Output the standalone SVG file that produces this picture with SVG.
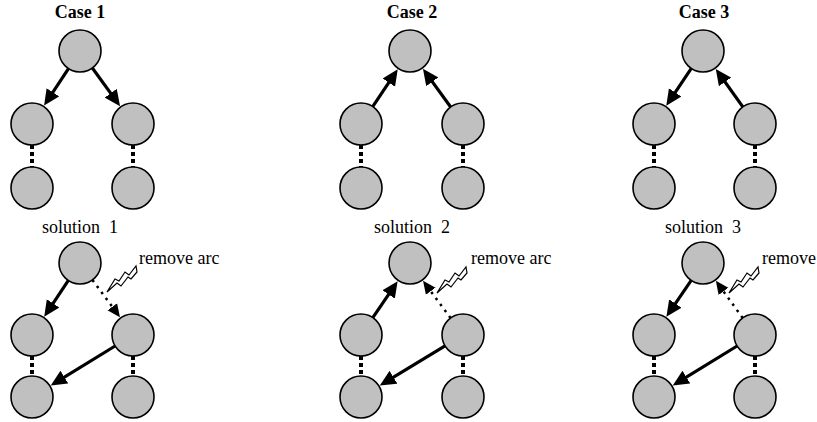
<svg xmlns="http://www.w3.org/2000/svg" width="817" height="422" viewBox="0 0 817 422">
<style>
.n{fill:#c0c0c0;stroke:#000;stroke-width:1.6}
.t{font-family:'Liberation Serif','DejaVu Serif',serif;font-size:18px;fill:#000}
.h{font-weight:bold;text-anchor:middle}
.s{text-anchor:middle;white-space:pre}
.a{stroke:#000;stroke-width:3.2;fill:none;marker-end:url(#ah)}
.d{stroke:#000;stroke-width:2.5;fill:none;stroke-dasharray:2.5 5;marker-end:url(#ad)}
.v{stroke:#000;stroke-width:4;fill:none;stroke-dasharray:4 3}
.b{fill:#fff;stroke:#000;stroke-width:1.2;stroke-linejoin:miter}
</style>
<defs>
<marker id="ah" markerUnits="userSpaceOnUse" viewBox="0 -8 17 16" refX="11" refY="0" markerWidth="17" markerHeight="16" orient="auto"><path d="M0,-7.5 L16,0 L0,7.5 Z" fill="#000"/></marker>
<marker id="ad" markerUnits="userSpaceOnUse" viewBox="0 -7 14 14" refX="9" refY="0" markerWidth="14" markerHeight="14" orient="auto"><path d="M0,-6 L13,0 L0,6 Z" fill="#000"/></marker>
<polygon id="bolt" class="b" points="0,26 8,13 12,15 18,6 22,9 29,0 30,6 24,13 21,11 14,20 10,17"/>
</defs>

<g id="labels" font-family="'Liberation Serif','DejaVu Serif',serif">
<text class="t h" x="80" y="18">Case 1</text>
<text class="t h" x="412" y="18">Case 2</text>
<text class="t h" x="704" y="18">Case 3</text>
<text class="t s" x="80" y="233" xml:space="preserve">solution  1</text>
<text class="t s" x="412" y="233" xml:space="preserve">solution  2</text>
<text class="t s" x="703" y="233" xml:space="preserve">solution  3</text>
<text class="t" x="139" y="264">remove arc</text>
<text class="t" x="471" y="264">remove arc</text>
<text class="t" x="762" y="264">remove</text>
</g>

<g id="connectors">
<!-- Case 1 -->
<line class="a" x1="68.46" y1="68.55" x2="46.84" y2="101.44"/>
<line class="a" x1="92.34" y1="67.99" x2="117.13" y2="102.15"/>
<line class="v" x1="32" y1="145" x2="32" y2="167"/>
<line class="v" x1="133" y1="145" x2="133" y2="167"/>
<!-- Case 2 -->
<line class="a" x1="372.70" y1="106.56" x2="394.95" y2="73.42"/>
<line class="a" x1="450.66" y1="107.01" x2="425.87" y2="72.85"/>
<line class="v" x1="361" y1="145" x2="361" y2="167"/>
<line class="v" x1="463" y1="145" x2="463" y2="167"/>
<!-- Case 3 -->
<line class="a" x1="691.30" y1="68.44" x2="669.05" y2="101.58"/>
<line class="a" x1="742.82" y1="106.90" x2="718.66" y2="72.99"/>
<line class="v" x1="654" y1="145" x2="654" y2="167"/>
<line class="v" x1="755" y1="145" x2="755" y2="167"/>
<!-- Solution 1 -->
<line class="a" x1="68.35" y1="280.47" x2="46.97" y2="312.53"/>
<line class="d" x1="92.45" y1="279.91" x2="117.59" y2="314.06"/>
<line class="a" x1="115.10" y1="345.99" x2="55.01" y2="382.87"/>
<line class="v" x1="32" y1="356" x2="32" y2="376"/>
<line class="v" x1="133" y1="356" x2="133" y2="376"/>
<!-- Solution 2 -->
<line class="a" x1="372.81" y1="317.64" x2="394.81" y2="285.32"/>
<line class="d" x1="450.55" y1="318.09" x2="425.41" y2="283.94"/>
<line class="a" x1="445.06" y1="345.91" x2="384.07" y2="382.97"/>
<line class="v" x1="361" y1="356" x2="361" y2="376"/>
<line class="v" x1="463" y1="356" x2="463" y2="376"/>
<!-- Solution 3 -->
<line class="a" x1="691.19" y1="280.36" x2="669.19" y2="312.68"/>
<line class="d" x1="742.70" y1="317.98" x2="718.22" y2="284.08"/>
<line class="a" x1="737.10" y1="345.99" x2="677.01" y2="382.87"/>
<line class="v" x1="654" y1="356" x2="654" y2="376"/>
<line class="v" x1="755" y1="356" x2="755" y2="376"/>
</g>

<g id="bolts">
<use href="#bolt" x="107" y="266"/>
<use href="#bolt" x="437" y="267"/>
<use href="#bolt" x="729" y="267"/>
</g>

<g id="c1-top"><circle class="n" cx="80" cy="51" r="21"/></g>
<g id="c1-l"><circle class="n" cx="32" cy="124" r="21"/></g>
<g id="c1-r"><circle class="n" cx="133" cy="124" r="21"/></g>
<g id="c1-bl"><circle class="n" cx="32" cy="188" r="21"/></g>
<g id="c1-br"><circle class="n" cx="133" cy="188" r="21"/></g>

<g id="c2-top"><circle class="n" cx="410" cy="51" r="21"/></g>
<g id="c2-l"><circle class="n" cx="361" cy="124" r="21"/></g>
<g id="c2-r"><circle class="n" cx="463" cy="124" r="21"/></g>
<g id="c2-bl"><circle class="n" cx="361" cy="188" r="21"/></g>
<g id="c2-br"><circle class="n" cx="463" cy="188" r="21"/></g>

<g id="c3-top"><circle class="n" cx="703" cy="51" r="21"/></g>
<g id="c3-l"><circle class="n" cx="654" cy="124" r="21"/></g>
<g id="c3-r"><circle class="n" cx="755" cy="124" r="21"/></g>
<g id="c3-bl"><circle class="n" cx="654" cy="188" r="21"/></g>
<g id="c3-br"><circle class="n" cx="755" cy="188" r="21"/></g>

<g id="s1-top"><circle class="n" cx="80" cy="263" r="21"/></g>
<g id="s1-l"><circle class="n" cx="32" cy="335" r="21"/></g>
<g id="s1-r"><circle class="n" cx="133" cy="335" r="21"/></g>
<g id="s1-bl"><circle class="n" cx="32" cy="397" r="21"/></g>
<g id="s1-br"><circle class="n" cx="133" cy="397" r="21"/></g>

<g id="s2-top"><circle class="n" cx="410" cy="263" r="21"/></g>
<g id="s2-l"><circle class="n" cx="361" cy="335" r="21"/></g>
<g id="s2-r"><circle class="n" cx="463" cy="335" r="21"/></g>
<g id="s2-bl"><circle class="n" cx="361" cy="397" r="21"/></g>
<g id="s2-br"><circle class="n" cx="463" cy="397" r="21"/></g>

<g id="s3-top"><circle class="n" cx="703" cy="263" r="21"/></g>
<g id="s3-l"><circle class="n" cx="654" cy="335" r="21"/></g>
<g id="s3-r"><circle class="n" cx="755" cy="335" r="21"/></g>
<g id="s3-bl"><circle class="n" cx="654" cy="397" r="21"/></g>
<g id="s3-br"><circle class="n" cx="755" cy="397" r="21"/></g>
</svg>
